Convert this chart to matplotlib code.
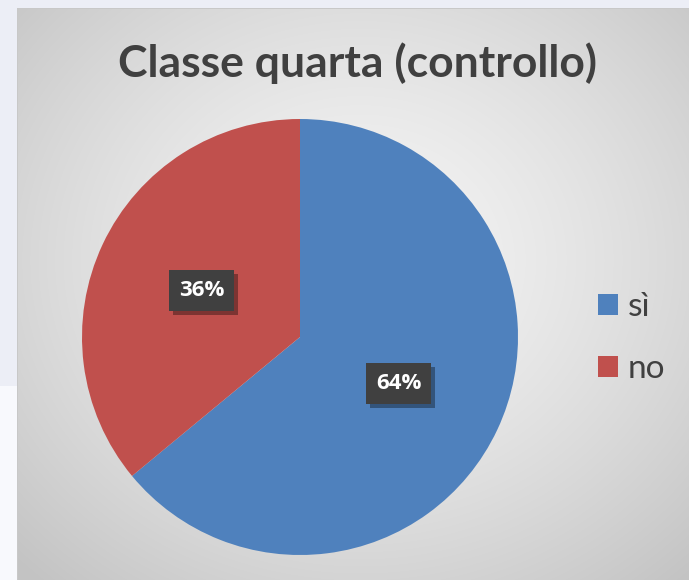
import numpy as np
import matplotlib
matplotlib.use("Agg")
import matplotlib.pyplot as plt
from matplotlib import patheffects

title = "Classe quarta (controllo)"
categories = ["sì", "no"]
values = [64, 36]
colors = ["#4F81BD", "#C0504D"]

W, H = 689, 580
fig = plt.figure(figsize=(W / 100, H / 100), dpi=100)

# background image (slide + chart area with radial gradient)
yy, xx = np.mgrid[0:H, 0:W]
bg = np.zeros((H, W, 3))
bg[:] = np.array([236, 238, 246]) / 255
lower = (yy > 385)
bg[lower] = np.array([248, 249, 253]) / 255
cx, cy = 360, 260
d = np.sqrt(((xx - cx) / 430.0) ** 2 + ((yy - cy) / 380.0) ** 2)
g = np.clip(245 - 42 * d ** 1.4, 195, 250) / 255
inside = (xx >= 18) & (yy >= 9)
for k in range(3):
    ch = bg[:, :, k]
    ch[inside] = g[inside]
# border
border = ((xx == 17) & (yy >= 8)) | ((yy == 8) & (xx >= 17))
bg[border] = np.array([200, 200, 200]) / 255

axbg = fig.add_axes([0, 0, 1, 1])
axbg.imshow(bg, aspect="auto", interpolation="nearest")
axbg.set_axis_off()

# pie axes: center (300,337) radius 218 px
r = 218
pcx, pcy = 300, 337
ax = fig.add_axes([(pcx - r) / W, (H - pcy - r) / H, 2 * r / W, 2 * r / H])
wedges, texts, autotexts = ax.pie(
    values, colors=colors, startangle=90, counterclock=False,
    autopct=lambda p: f"{p:.0f}%", pctdistance=0.5, radius=1,
    textprops=dict(color="white", fontsize=16, fontweight="bold", family="Open Sans"),
    wedgeprops=dict(linewidth=0),
)
for t in autotexts:
    t.set_bbox(dict(boxstyle="square,pad=0.45", facecolor="#404040", edgecolor="none"))
    t.get_bbox_patch().set_path_effects([
        patheffects.withSimplePatchShadow(offset=(3, -3), shadow_rgbFace="black", alpha=0.35)
    ])
ax.set_xlim(-1, 1)
ax.set_ylim(-1, 1)
ax.set_aspect("equal")
ax.set_axis_off()

fig.text(357 / W, 1 - 63 / H, title, ha="center", va="center",
         fontsize=32, fontweight="bold", color="#404040", family="Lato")

leg = fig.legend(wedges, categories, loc="center left",
                 bbox_to_anchor=(568 / W, 1 - 338 / H),
                 frameon=False, prop=dict(family="Lato", size=24),
                 handlelength=0.6, handleheight=0.6, handletextpad=0.3,
                 labelspacing=0.95, labelcolor="#404040")

fig.savefig("out.png", dpi=100)
